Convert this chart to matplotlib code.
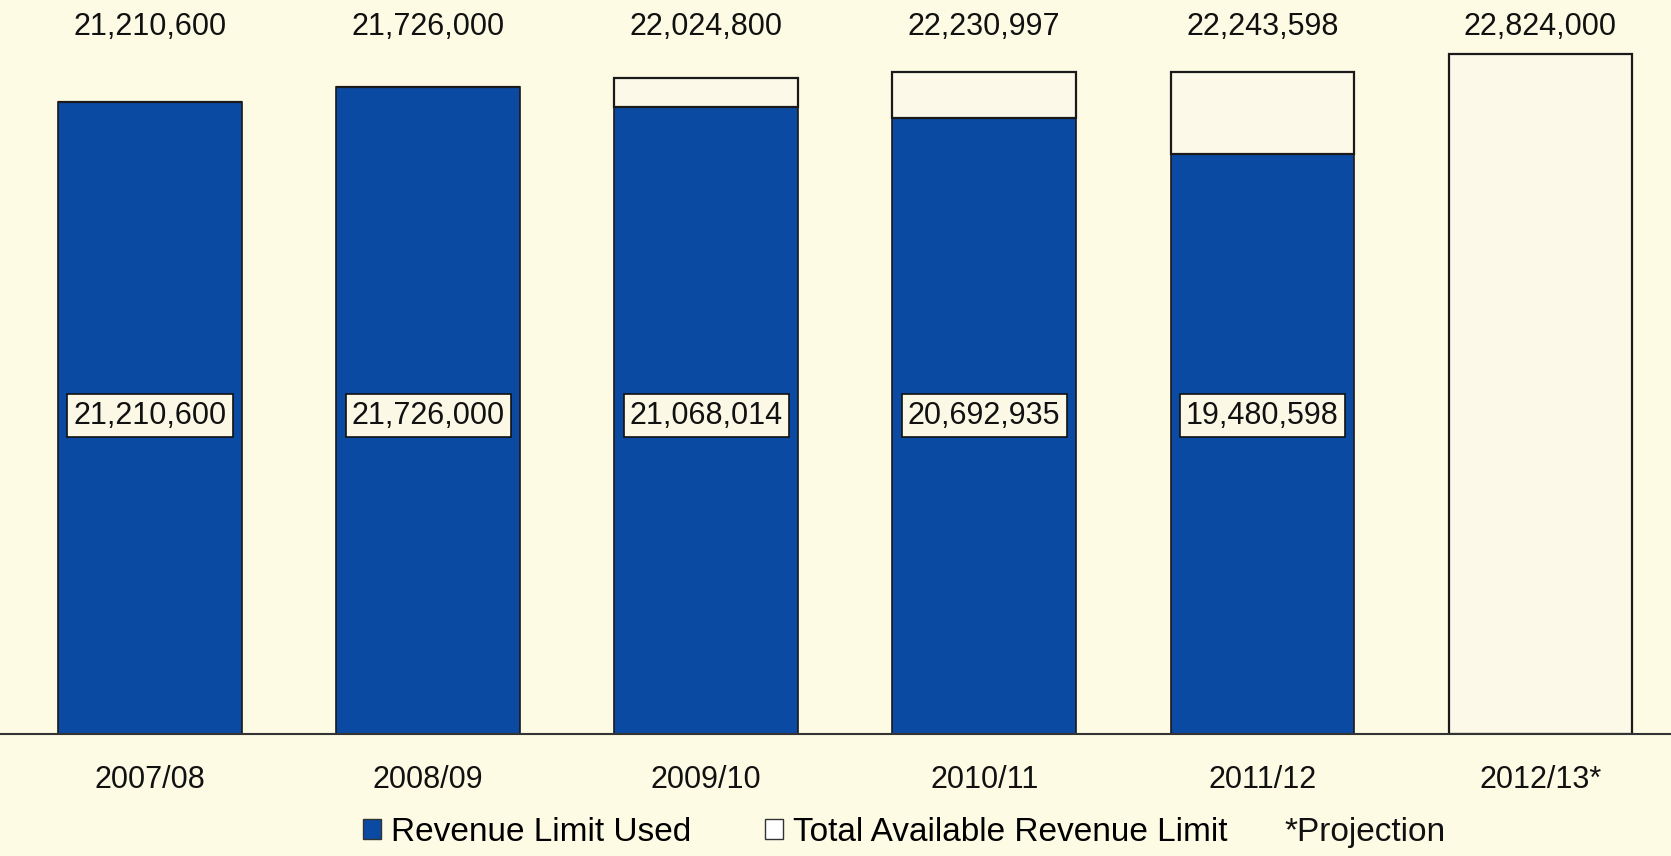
import matplotlib.pyplot as plt
from matplotlib.patches import Patch
from matplotlib import font_manager
import numpy as np

years = ["2007/08", "2008/09", "2009/10", "2010/11", "2011/12", "2012/13*"]
used = [21210600, 21726000, 21068014, 20692935, 19480598, 0]
available = [21210600, 21726000, 22024800, 22230997, 22243598, 22824000]

blue = "#0b4aa3"
cream = "#fdfbe4"

names = {f.name for f in font_manager.fontManager.ttflist}
fam = ["Liberation Sans Narrow"] if "Liberation Sans Narrow" in names else ["Liberation Sans"]
plt.rcParams["font.family"] = fam + ["DejaVu Sans"]

fig = plt.figure(figsize=(16.71, 8.56), dpi=100, facecolor=cream)
ax = fig.add_axes([0, 0.1425, 1, 0.80])
ax.set_facecolor(cream)

x = np.arange(len(years))
w = 0.66
remaining = [a - u for a, u in zip(available, used)]

ax.bar(x, used, width=w, color=blue, edgecolor="#1a1a1a", linewidth=1.2, zorder=2)
ax.bar(x, remaining, bottom=used, width=w, color="#fcf9e8", edgecolor="#1a1a1a",
       linewidth=1.6, zorder=2)

ax.set_xlim(-0.54, 5.47)
ax.set_ylim(0, 23.0e6)

# totals across the top, used amounts boxed inside the blue bars
for xi, a, u in zip(x, available, used):
    ax.text(xi, 1.033, f"{a:,}", transform=ax.get_xaxis_transform(),
            ha="center", va="center", fontsize=22, color="#111111")
    if u > 0:
        ax.text(xi, 0.465, f"{u:,}", transform=ax.get_xaxis_transform(),
                ha="center", va="center", fontsize=22, color="#111111", zorder=3,
                bbox=dict(boxstyle="square,pad=0.2", fc="#fbf8e6", ec="#111111", lw=1.2))

for s in ["top", "right", "left"]:
    ax.spines[s].set_visible(False)
ax.spines["bottom"].set_color("#333333")
ax.spines["bottom"].set_linewidth(1.5)
ax.set_yticks([])
ax.set_xticks(x)
ax.set_xticklabels(years, fontsize=22, color="#111111")
ax.tick_params(axis="x", length=0, pad=22)

handles = [Patch(facecolor=blue, edgecolor="#333333"),
           Patch(facecolor="white", edgecolor="#333333")]
fig.legend(handles, ["Revenue Limit Used", "Total Available Revenue Limit"],
           loc="center", bbox_to_anchor=(0.476, 0.028), ncol=2, frameon=False,
           fontsize=24, handlelength=0.55, handleheight=0.55, handletextpad=0.3,
           columnspacing=2.2)
fig.text(0.7685, 0.028, "*Projection", ha="left", va="center", fontsize=24,
         color="#111111")

fig.savefig("out.png", dpi=100, facecolor=cream)
